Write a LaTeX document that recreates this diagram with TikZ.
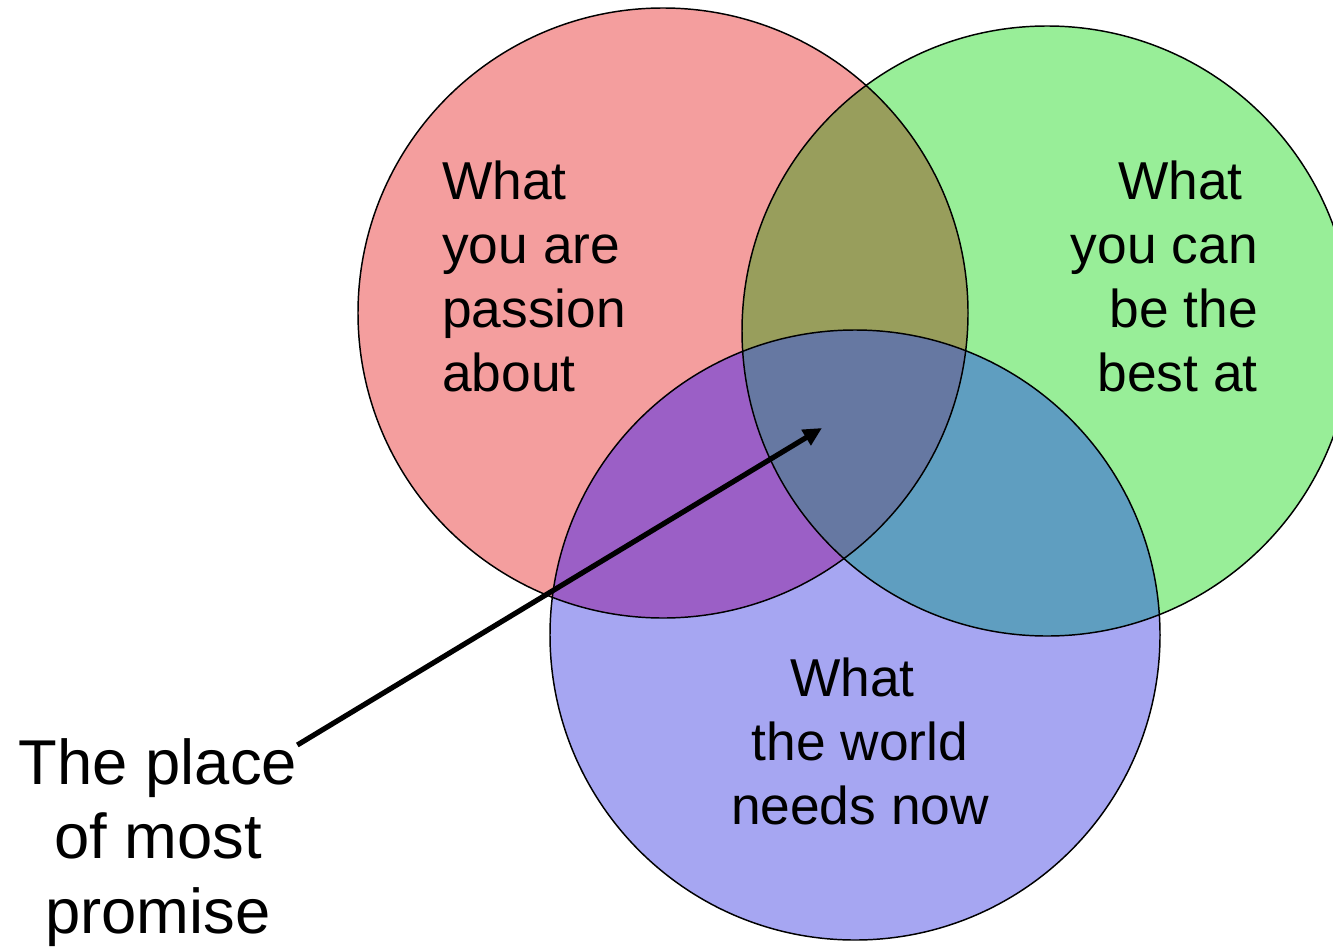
\documentclass[tikz,border=0pt]{standalone}
\usepackage{fontspec}
\setmainfont{Liberation Sans}
\usetikzlibrary{arrows.meta}

% region colours of the three-set diagram
\definecolor{passR}{RGB}{244,158,158}
\definecolor{bestG}{RGB}{152,238,152}
\definecolor{needB}{RGB}{166,166,242}
\definecolor{passBest}{RGB}{152,158,92}
\definecolor{passNeed}{RGB}{155,95,198}
\definecolor{bestNeed}{RGB}{95,158,192}
\definecolor{allThree}{RGB}{102,120,162}

\tikzset{
  setline/.style={draw=black, line width=1.1pt},
  settext/.style={inner sep=0pt, font=\fontsize{40}{48}\selectfont},
  calltext/.style={inner sep=0pt, font=\fontsize{47.5}{56}\selectfont, align=center},
  pointer/.style={line width=3.9pt, -{Triangle[length=14pt,width=13pt]}}
}

\newcommand{\passpath}{(663,313) circle[radius=305]}
\newcommand{\bestpath}{(1047,331) circle[radius=305]}
\newcommand{\needpath}{(855,635) circle[radius=305]}

\begin{document}
\begin{tikzpicture}[x=0.75pt, y=-0.75pt]
  \useasboundingbox (0,0) rectangle (1333,949);

  % single-set areas
  \fill[passR] \passpath;
  \fill[bestG] \bestpath;
  \fill[needB] \needpath;

  % pairwise overlaps
  \begin{scope}
    \clip \passpath;
    \fill[passBest] \bestpath;
    \fill[passNeed] \needpath;
  \end{scope}
  \begin{scope}
    \clip \bestpath;
    \fill[bestNeed] \needpath;
  \end{scope}

  % triple overlap
  \begin{scope}
    \clip \passpath;
    \clip \bestpath;
    \fill[allThree] \needpath;
  \end{scope}

  % outlines
  \draw[setline] \passpath;
  \draw[setline] \bestpath;
  \draw[setline] \needpath;

  % set labels
  \node[settext, align=left, anchor=north west] (passion) at (442,161)
    {What\\you are\\passion\\about};
  \node[settext, align=right, anchor=north east] (best) at (1258,161)
    {What\hspace*{0.28em}\\you can\\be the\\best at};
  \node[settext, align=center, anchor=north] (world) at (860,658)
    {What\hspace*{0.28em}\\the world\\needs now};

  % call-out
  \node[calltext, anchor=north] (place) at (158,738)
    {The place\\of most\\promise};
  \coordinate (focus) at (822,428);
  \draw[pointer] ([shift={(0,7)}]place.north east) -- (focus);
\end{tikzpicture}
\end{document}
